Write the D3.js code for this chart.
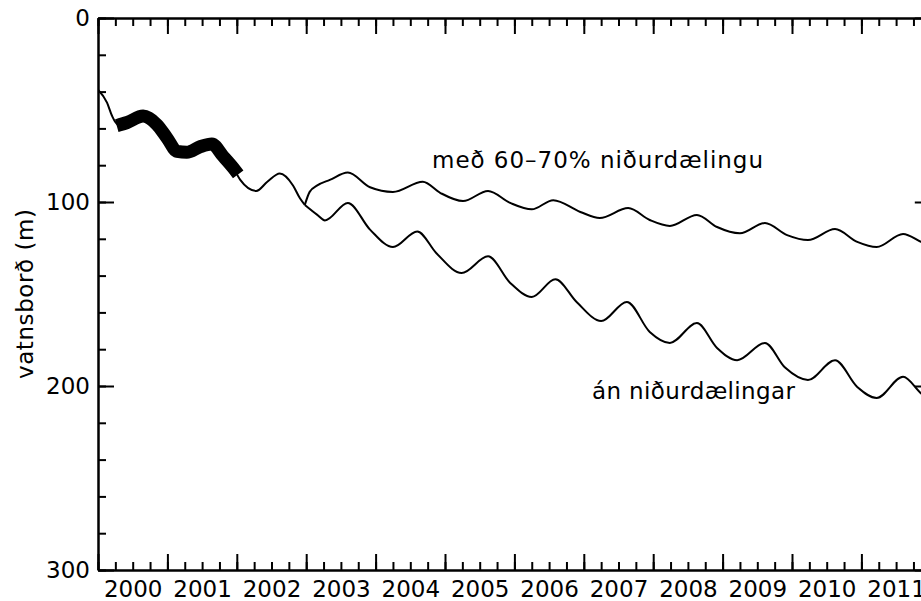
<!DOCTYPE html>
<html>
<head>
<meta charset="utf-8">
<script src="https://cdn.jsdelivr.net/npm/d3@7"></script>
<style>
  body { margin: 0; background: #fff; }
  text { font-family: "DejaVu Sans", sans-serif; }
</style>
</head>
<body>
<svg width="921" height="601"></svg>
<script>
// shared model run up to the split at start of 2003
var sharedT = [2000.00, 2000.13, 2000.20, 2000.29, 2000.42, 2000.65, 2000.85, 2000.99, 2001.14, 2001.28, 2001.47, 2001.64, 2001.80, 2001.95, 2002.05, 2002.28, 2002.44, 2002.62, 2002.81, 2002.91, 2002.98];
var sharedV = [39, 46, 53, 58, 57, 53.5, 58, 65, 72.5, 73, 70, 68.5, 75, 81.5, 88, 94, 89, 84.5, 91, 98, 101.6];

// með 60-70% niðurdælingu
var upperT = [2002.98, 2003.05, 2003.16, 2003.34, 2003.60, 2003.92, 2004.25, 2004.68, 2004.93, 2005.26, 2005.62, 2005.94, 2006.25, 2006.56, 2006.95, 2007.23, 2007.64, 2007.95, 2008.24, 2008.63, 2008.92, 2009.25, 2009.61, 2009.93, 2010.23, 2010.62, 2010.94, 2011.22, 2011.60, 2011.86, 2012.0];
var upperV = [101.6, 94.5, 91, 88, 84, 92, 94.5, 89, 95, 99.5, 94, 100.5, 104, 99, 105.4, 108.7, 103.3, 109.8, 113, 107, 113.6, 117, 111.4, 118, 120.7, 114.7, 121.7, 124.5, 117.4, 121.7, 124];

// án niðurdælingar
var lowerT = [2002.98, 2003.16, 2003.27, 2003.60, 2003.92, 2004.25, 2004.60, 2004.88, 2005.24, 2005.62, 2005.94, 2006.25, 2006.59, 2006.90, 2007.25, 2007.62, 2007.95, 2008.24, 2008.63, 2008.92, 2009.21, 2009.61, 2009.90, 2010.23, 2010.62, 2010.94, 2011.22, 2011.60, 2011.86, 2012.0];
var lowerV = [101.6, 107, 110, 100.5, 115, 124.5, 116, 128, 138.6, 129.5, 144, 151.6, 142, 154.5, 164.7, 154.3, 170.6, 176.6, 165.8, 179.3, 186, 176.6, 190, 196.7, 186, 200.5, 206.5, 195, 204, 208];

// measured water level
var measT = [2000.27, 2000.42, 2000.65, 2000.85, 2000.99, 2001.14, 2001.28, 2001.47, 2001.64, 2001.80, 2001.95, 2002.02];
var measV = [58.5, 56.8, 53.3, 58, 65, 72.5, 73, 70, 68.5, 75, 81.5, 85];

var yearLabels = [2000, 2001, 2002, 2003, 2004, 2005, 2006, 2007, 2008, 2009, 2010, 2011];
var depthLabels = [0, 100, 200, 300];

var svg = d3.select("svg");
var plot = {left: 98, right: 930.8, top: 18, bottom: 570};

var x = d3.scaleLinear().domain([2000, 2012]).range([plot.left, plot.right]);
var y = d3.scaleLinear().domain([0, 300]).range([plot.top, plot.bottom]);

svg.append("rect").attr("width", 921).attr("height", 601).attr("fill", "#fff");

svg.append("clipPath").attr("id", "plot")
    .append("rect").attr("x", plot.left).attr("y", plot.top)
    .attr("width", plot.right - plot.left).attr("height", plot.bottom - plot.top);

function zip(t, v) { return t.map((d, i) => [d, v[i]]); }

var line = d3.line()
    .x(d => x(d[0])).y(d => y(d[1]))
    .curve(d3.curveMonotoneX);

var g = svg.append("g").attr("clip-path", "url(#plot)");

[sharedT, upperT, lowerT].forEach(function(t, i) {
    var v = [sharedV, upperV, lowerV][i];
    g.append("path")
        .attr("fill", "none").attr("stroke", "#000")
        .attr("stroke-width", 2)
        .attr("d", line(zip(t, v)));
});

// measured points drawn as a heavy band
g.append("path")
    .attr("fill", "none").attr("stroke", "#000")
    .attr("stroke-width", 13).attr("stroke-linejoin", "round")
    .attr("d", line(zip(measT, measV)));

// axes: major and minor ticks on all four sides
var majorX = d3.range(2000, 2012.01, 1), minorX = d3.range(2000, 2012.01, 0.25);
var majorY = d3.range(0, 301, 100), minorY = d3.range(0, 301, 20);

function styleAxis(sel) {
    sel.selectAll("path,line").attr("stroke", "#000").attr("stroke-width", 2);
}

[[d3.axisBottom, "translate(0," + plot.bottom + ")"], [d3.axisTop, "translate(0," + plot.top + ")"]].forEach(function(a) {
    svg.append("g").attr("transform", a[1])
        .call(a[0](x).tickValues(minorX).tickSize(-8).tickSizeOuter(0).tickFormat(""))
        .call(styleAxis);
    svg.append("g").attr("transform", a[1])
        .call(a[0](x).tickValues(majorX).tickSize(-16).tickSizeOuter(0).tickFormat(""))
        .call(styleAxis);
});

[[d3.axisLeft, "translate(" + plot.left + ",0)"], [d3.axisRight, "translate(" + plot.right + ",0)"]].forEach(function(a) {
    svg.append("g").attr("transform", a[1])
        .call(a[0](y).tickValues(minorY).tickSize(-8).tickSizeOuter(0).tickFormat(""))
        .call(styleAxis);
    svg.append("g").attr("transform", a[1])
        .call(a[0](y).tickValues(majorY).tickSize(-16).tickSizeOuter(0).tickFormat(""))
        .call(styleAxis);
});

// year labels sit in the middle of each year
svg.append("g").attr("transform", "translate(0," + plot.bottom + ")")
    .call(d3.axisBottom(x).tickValues(yearLabels.map(d => d + 0.5))
        .tickSize(0).tickPadding(11).tickFormat(d => Math.floor(d)))
    .call(s => s.select(".domain").remove())
    .selectAll("text").attr("font-family", "DejaVu Sans").attr("font-size", 23).attr("fill", "#000");

svg.append("g").attr("transform", "translate(" + plot.left + ",0)")
    .call(d3.axisLeft(y).tickValues(depthLabels).tickSize(0).tickPadding(8))
    .call(s => s.select(".domain").remove())
    .selectAll("text").attr("font-family", "DejaVu Sans").attr("font-size", 23).attr("fill", "#000");

svg.append("text")
    .attr("transform", "translate(33," + (plot.top + plot.bottom) / 2 + ") rotate(-90)")
    .attr("text-anchor", "middle").attr("font-size", 23)
    .attr("textLength", 170).attr("lengthAdjust", "spacing")
    .text("vatnsborð  (m)");

svg.append("text")
    .attr("x", 432).attr("y", 168).attr("font-size", 23)
    .attr("textLength", 331).attr("lengthAdjust", "spacing")
    .text("með  60–70%  niðurdælingu");

svg.append("text")
    .attr("x", 592).attr("y", 399).attr("font-size", 23)
    .attr("textLength", 203).attr("lengthAdjust", "spacing")
    .text("án  niðurdælingar");
</script>
</body>
</html>
